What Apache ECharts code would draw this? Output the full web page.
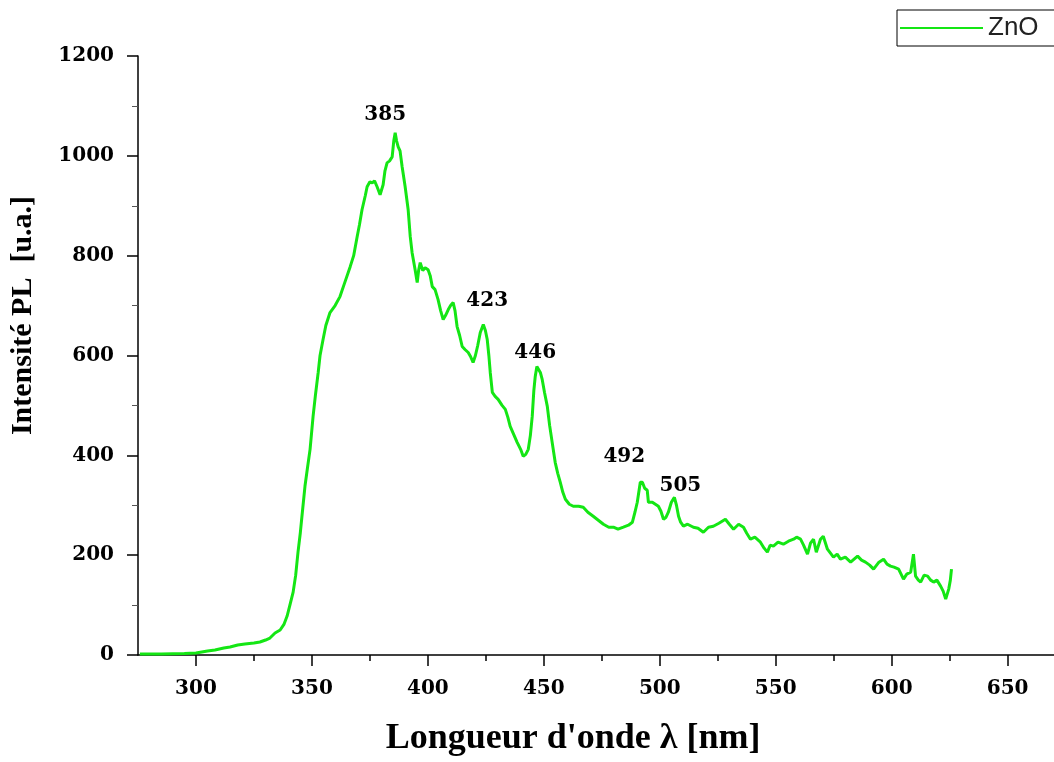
<!DOCTYPE html>
<html style="height: 100%">
<head>
    <meta charset="utf-8">
    <script src="https://cdn.jsdelivr.net/npm/echarts@6/dist/echarts.min.js"></script>
</head>
<body style="height: 100%; margin: 0; background: #fff">
    <div id="main" style="width:1054px; height:762px;"></div>
    <script type="text/javascript">
    // spectre PL du ZnO
    var wavelength = [
        275.8, 285, 295, 300, 305, 308.2, 312, 314.7, 318, 321.1, 325, 327.6, 330, 331.9, 334.1, 336.3,
        338, 339.3, 340.5, 341.9, 343, 344.0, 345.0, 345.7, 347.0, 348, 349.2, 350.5, 351.5, 352.7,
        353.5, 354.8, 356, 357.8, 360, 362.1, 364, 366.5, 368, 369.5, 370.5, 371.6, 373, 373.8, 375,
        376.0, 377, 378.1, 379.4, 380.7, 381.5, 382.4, 383.5, 384.6, 385.3, 385.9, 386.5, 387.2, 388,
        388.9, 390.2, 391.5, 392.4, 393.2, 394.5, 395.4, 396.0, 396.7, 397.8, 398.8, 400.1, 401.0,
        401.9, 403.1, 404.4, 405.5, 406.6, 407.6, 408.8, 409.8, 410.9, 411.7, 412.6, 413.7, 414.8,
        416, 417.4, 418.4, 419.5, 420.5, 421.5, 422.6, 423.9, 424.8, 425.6, 426.3, 426.9, 427.8, 429,
        430.3, 432, 433.4, 434.5, 435.5, 437, 438.5, 440, 441.1, 442.2, 443.3, 444.2, 445.0, 445.7,
        446.3, 447.0, 447.6, 448.5, 449.3, 450.3, 451.5, 452.5, 453.6, 454.9, 456, 457.1, 458.2, 459.3,
        461, 462.7, 465, 467.0, 469, 471.3, 473.5, 475.7, 478, 480.0, 482, 484.3, 486.5, 488.2, 489.3,
        490.3, 491.6, 492.5, 493.5, 494.6, 495.1, 496.8, 498.1, 499.4, 500.5, 501.6, 502.7, 503.7, 505,
        506.3, 507.2, 508.1, 509, 510.2, 512, 514.5, 516.5, 518.8, 521, 523.1, 525.5, 528.3, 530,
        531.8, 534, 536.1, 537.5, 539.1, 541, 543.4, 545, 546.4, 547.6, 549.0, 551, 553.3, 555.5,
        557.7, 559, 560.7, 562, 563.7, 565, 566.3, 567.5, 569.3, 570.5, 572.3, 574.9, 576.5, 577.9,
        580, 582.3, 585.3, 587, 588.7, 590.5, 592.2, 594.5, 596.5, 598, 599.5, 601, 603.0, 605.1,
        606.5, 608.2, 609.4, 610.3, 611.5, 612.5, 614, 615.5, 616.8, 618.1, 619.5, 621.1, 622.2,
        623.3, 624.6, 625.3, 625.8
    ];
    var intensity = [
        2, 2, 3, 4, 8, 10, 14, 16, 20, 22, 24, 26, 30, 34, 44, 50,
        62, 78, 100, 126, 160, 206, 245, 278, 338, 372, 412, 478, 520, 566,
        600, 632, 660, 686, 700, 718, 744, 778, 800, 838, 862, 892, 920, 938, 948,
        946, 950, 938, 922, 942, 970, 986, 990, 998, 1030, 1046, 1030, 1018, 1010,
        978, 938, 892, 838, 806, 772, 746, 770, 786, 770, 776, 772, 760,
        738, 732, 712, 690, 672, 680, 692, 700, 706, 690, 658, 640, 618,
        612, 606, 598, 586, 600, 620, 646, 662, 650, 632, 600, 566, 526, 518,
        512, 500, 492, 476, 458, 442, 426, 412, 398, 402, 412, 440, 478, 530,
        558, 578, 582, 566, 552, 526, 498, 460, 426, 386, 364, 346, 326, 312,
        302, 298, 298, 296, 286, 278, 270, 262, 256, 256, 252, 256, 260, 266, 286,
        306, 346, 346, 334, 330, 306, 306, 302, 298, 288, 272, 276, 286, 306,
        316, 300, 278, 266, 258, 262, 256, 254, 246, 256, 258, 264, 272, 262,
        252, 262, 256, 244, 232, 236, 226, 214, 206, 220, 218, 226, 222, 228,
        232, 236, 232, 220, 202, 224, 232, 206, 232, 238, 212, 196, 202, 192,
        196, 186, 198, 190, 186, 180, 172, 186, 192, 182, 178, 176, 172, 152,
        162, 166, 202, 158, 150, 146, 160, 158, 150, 146, 150, 138, 128,
        112, 132, 150, 172
    ];

    // pics annotés
    var peakNames = ['385', '423', '446', '492', '505'];
    var peakX = [381.6, 425.6, 446.3, 484.7, 508.9];
    var peakY = [1082, 710, 606, 398, 338];

    var xMajor = [300, 350, 400, 450, 500, 550, 600, 650];
    var xMinor = [325, 375, 425, 475, 525, 575, 625];

    var lineData = wavelength.map(function (w, i) { return [w, intensity[i]]; });
    var peakData = peakNames.map(function (n, i) { return { name: n, value: [peakX[i], peakY[i]] }; });

    var tickFont = { fontFamily: 'DejaVu Serif', fontWeight: 'bold', fontSize: 20, color: '#000' };

    var myChart = echarts.init(document.getElementById('main'));
    var option = {
        backgroundColor: '#fff',
        animation: false,
        grid: { left: 138, right: 0, top: 56, bottom: 106 },
        legend: {
            data: [{ name: 'ZnO', icon: 'rect' }],
            left: 897,
            top: 10,
            padding: [5, 30, 5, 3],
            borderColor: '#000',
            borderWidth: 1,
            itemWidth: 83,
            itemHeight: 2,
            itemGap: 5,
            textStyle: { fontFamily: 'Liberation Sans', fontSize: 26, color: '#222' }
        },
        xAxis: [{
            type: 'value',
            min: 275,
            max: 670,
            name: 'Longueur d\'onde λ [nm]',
            nameLocation: 'middle',
            nameGap: 66,
            nameTextStyle: {
                fontFamily: 'Liberation Serif', fontWeight: 'bold', fontSize: 36, color: '#000',
                padding: [0, 46, 0, 0]
            },
            axisLine: { lineStyle: { color: '#000', width: 1.5 } },
            axisTick: { customValues: xMajor, length: 11, lineStyle: { color: '#000', width: 1.5 } },
            axisLabel: Object.assign({ customValues: xMajor, margin: 24 }, tickFont),
            splitLine: { show: false }
        }, {
            type: 'value',
            min: 275,
            max: 670,
            position: 'bottom',
            axisLine: { show: false },
            axisTick: { customValues: xMinor, length: 6, lineStyle: { color: '#000', width: 1.5 } },
            axisLabel: { show: false },
            splitLine: { show: false }
        }],
        yAxis: {
            type: 'value',
            min: 0,
            max: 1200,
            interval: 200,
            name: 'Intensité PL  [u.a.]',
            nameLocation: 'middle',
            nameGap: 100,
            nameTextStyle: {
                fontFamily: 'Liberation Serif', fontWeight: 'bold', fontSize: 30, color: '#000',
                padding: [0, 0, 0, 80]
            },
            axisLine: { show: true, lineStyle: { color: '#000', width: 1.5 } },
            axisTick: { show: true, length: 11, lineStyle: { color: '#000', width: 1.5 } },
            minorTick: { show: true, splitNumber: 2, length: 6, lineStyle: { color: '#555' } },
            axisLabel: Object.assign({
                margin: 24,
                formatter: function (v) { return String(v); }
            }, tickFont),
            splitLine: { show: false }
        },
        series: [{
            name: 'ZnO',
            type: 'line',
            data: lineData,
            symbol: 'none',
            color: '#14e614',
            lineStyle: { width: 3, color: '#14e614' },
            z: 3
        }, {
            type: 'scatter',
            data: peakData,
            symbolSize: 0,
            silent: true,
            itemStyle: { color: '#000', opacity: 1 },
            label: {
                show: true,
                position: [0, 0],
                align: 'center',
                verticalAlign: 'middle',
                formatter: '{b}',
                fontFamily: 'DejaVu Serif',
                fontWeight: 'bold',
                fontSize: 20,
                color: '#000',
                opacity: 1
            },
            z: 4
        }]
    };
    myChart.setOption(option);
    </script>
</body>
</html>
